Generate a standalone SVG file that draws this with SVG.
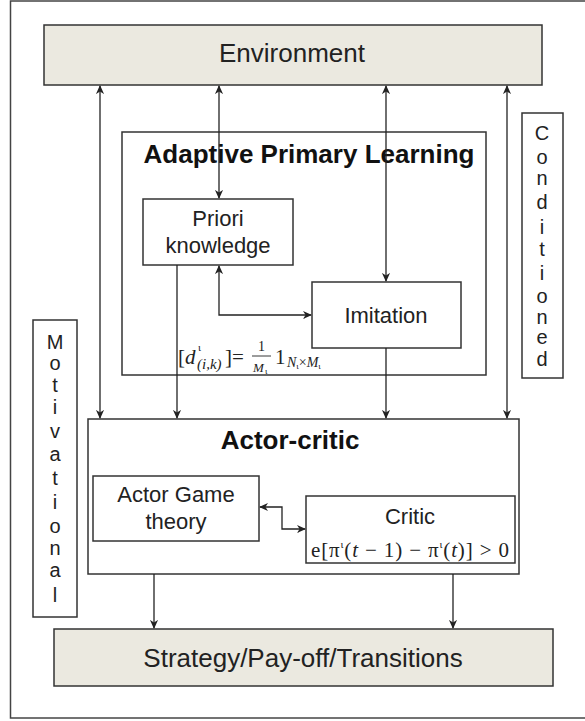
<svg xmlns="http://www.w3.org/2000/svg" width="585" height="721" viewBox="0 0 585 721">
<style>
.box{fill:#fff;stroke:#333;stroke-width:1.5}
.band{fill:#ebe9e0;stroke:#333;stroke-width:1.5}
.t{font-family:"Liberation Sans",Arial,sans-serif;fill:#222;text-anchor:middle}
.b{font-weight:bold;fill:#111}
.m{font-family:"Liberation Serif","DejaVu Serif",serif;fill:#222}
.c line,.c path{stroke:#222;stroke-width:1.3;fill:none}
</style>
<defs>
<marker id="ah" viewBox="0 0 10 10" refX="9" refY="5" markerWidth="9" markerHeight="9" markerUnits="userSpaceOnUse" orient="auto-start-reverse">
<path d="M0,0.5 L10,5 L0,9.5 L3,5 Z" fill="#222"/>
</marker>
</defs>
<rect x="10.5" y="1" width="600" height="717" fill="#fff" stroke="#444" stroke-width="1.5"/>
<g id="environment"><rect class="band" x="44" y="25" width="498" height="60"/><text class="t" x="292" y="62" font-size="26">Environment</text></g>
<g id="apl"><rect class="box" x="122" y="132" width="364" height="243"/><text class="t b" x="309" y="163" font-size="26">Adaptive Primary Learning</text></g>
<g id="priori"><rect class="box" x="143" y="199" width="150" height="66"/><text class="t" x="218" y="226" font-size="22">Priori</text><text class="t" x="218" y="253" font-size="22">knowledge</text></g>
<g id="imitation"><rect class="box" x="312" y="282" width="149" height="66"/><text class="t" x="386" y="323" font-size="22">Imitation</text></g>
<g id="formula1" class="m">
<text x="178" y="364" font-size="21">[<tspan font-style="italic">d</tspan></text>
<text x="198" y="351" font-size="11">ι</text>
<text x="197" y="369" font-size="15" font-style="italic">(i,k)</text>
<text x="225" y="364" font-size="21">]=</text>
<text x="258" y="351" font-size="14">1</text>
<line x1="252" y1="356" x2="271" y2="356" stroke="#222" stroke-width="0.9"/>
<text x="253" y="372" font-size="13" font-style="italic">M</text>
<text x="265" y="374" font-size="9">ι</text>
<text x="275" y="364" font-size="21">1</text>
<text x="287" y="367" font-size="14"><tspan font-style="italic">N</tspan><tspan font-size="9" dy="2">ι</tspan><tspan dy="-2">×</tspan><tspan font-style="italic">M</tspan><tspan font-size="9" dy="2">ι</tspan></text>
</g>
<g id="actorcritic"><rect class="box" x="88" y="419" width="431" height="155"/><text class="t b" x="290" y="449" font-size="26">Actor-critic</text></g>
<g id="actor"><rect class="box" x="93" y="476" width="166" height="65"/><text class="t" x="176" y="502" font-size="22">Actor Game</text><text class="t" x="176" y="529" font-size="22">theory</text></g>
<g id="critic"><rect class="box" x="306" y="496" width="209" height="67"/><text class="t" x="410" y="524" font-size="22">Critic</text><text class="m" x="311" y="557" font-size="21" textLength="198" lengthAdjust="spacing">e[π<tspan font-size="11" dy="-9">ι</tspan><tspan dy="9">(</tspan><tspan font-style="italic">t</tspan> − 1) − π<tspan font-size="11" dy="-9">ι</tspan><tspan dy="9">(</tspan><tspan font-style="italic">t</tspan>)] &gt; 0</text></g>
<g id="strategy"><rect class="band" x="54" y="629" width="499" height="57"/><text class="t" x="303" y="667" font-size="26">Strategy/Pay-off/Transitions</text></g>
<g id="motivational"><rect class="box" x="33" y="320" width="44" height="297"/><text class="t" font-size="20"><tspan x="55" y="349">M</tspan><tspan x="55" y="370">o</tspan><tspan x="55" y="392">t</tspan><tspan x="55" y="414">i</tspan><tspan x="55" y="438">v</tspan><tspan x="55" y="461">a</tspan><tspan x="55" y="485">t</tspan><tspan x="55" y="509">i</tspan><tspan x="55" y="533">o</tspan><tspan x="55" y="555">n</tspan><tspan x="55" y="577">a</tspan><tspan x="55" y="602">l</tspan></text></g>
<g id="conditioned"><rect class="box" x="522" y="113" width="41" height="265"/><text class="t" font-size="20"><tspan x="542" y="140">C</tspan><tspan x="542" y="164">o</tspan><tspan x="542" y="185">n</tspan><tspan x="542" y="209">d</tspan><tspan x="542" y="234">i</tspan><tspan x="542" y="256">t</tspan><tspan x="542" y="280">i</tspan><tspan x="542" y="303">o</tspan><tspan x="542" y="324">n</tspan><tspan x="542" y="344">e</tspan><tspan x="542" y="366">d</tspan></text></g>
<g id="connectors" class="c">
<line x1="100" y1="86" x2="100" y2="418" marker-start="url(#ah)" marker-end="url(#ah)"/>
<line x1="219" y1="86" x2="219" y2="198" marker-start="url(#ah)" marker-end="url(#ah)"/>
<line x1="386" y1="86" x2="386" y2="281" marker-start="url(#ah)" marker-end="url(#ah)"/>
<line x1="507" y1="86" x2="507" y2="418" marker-start="url(#ah)" marker-end="url(#ah)"/>
<path d="M219,266 L219,315 L311,315" marker-start="url(#ah)" marker-end="url(#ah)"/>
<line x1="177" y1="265" x2="177" y2="418" marker-end="url(#ah)"/>
<line x1="386" y1="348" x2="386" y2="418" marker-end="url(#ah)"/>
<path d="M260,507 L282,507 L282,529 L305,529" marker-start="url(#ah)" marker-end="url(#ah)"/>
<line x1="154" y1="574" x2="154" y2="628" marker-end="url(#ah)"/>
<line x1="453" y1="574" x2="453" y2="628" marker-end="url(#ah)"/>
</g>
</svg>
